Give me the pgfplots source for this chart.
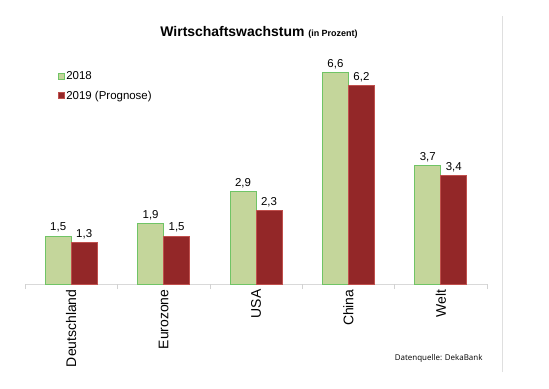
\documentclass[border=0pt]{standalone}
\usepackage{pgfplots}
\pgfplotsset{compat=1.18}
\usepackage{fontspec}
\setmainfont{Liberation Sans}
\newfontfamily\footfont{Open Sans}
\definecolor{bargreen}{RGB}{196,214,155}
\definecolor{bargreenedge}{RGB}{112,196,102}
\definecolor{barred}{RGB}{147,39,40}
\definecolor{barrededge}{RGB}{192,80,77}
\begin{document}
\begin{tikzpicture}[x=1bp,y=1bp]
\useasboundingbox (0,0) rectangle (549,388);
\fill[white] (0,0) rectangle (549,388);
\draw[gray!25, line width=0.8bp] (502,16) -- (502,372);
\node[font=\fontsize{14}{16}\selectfont\bfseries] at (259,356) {Wirtschaftswachstum \fontsize{9}{10}\selectfont(in Prozent)};
\node[font=\footfont\fontsize{8}{10}\selectfont, anchor=east] at (486,30) {Datenquelle: DekaBank};
\begin{axis}[
  at={(25bp,104bp)}, anchor=south west,
  scale only axis, width=462bp, height=240bp,
  xmin=-0.5, xmax=4.5, ymin=0, ymax=7.5,
  ybar=0pt, bar width=26bp,
  legend image code/.code={\draw[#1] (0bp,-3bp) rectangle (6bp,3bp);},
  axis x line*=bottom, axis y line=none,
  axis line style={-, draw=gray!30, line width=0.8bp},
  xtick={0,1,2,3,4},
  xticklabels={Deutschland,Eurozone,USA,China,Welt},
  major tick length=0pt, tick align=outside,
  extra x ticks={-0.5,0.5,1.5,2.5,3.5,4.5},
  extra x tick labels={},
  extra x tick style={major tick length=5bp, tick style={draw=gray!35, line width=0.6bp}},
  xticklabel style={rotate=90, anchor=east, font=\fontsize{14}{16}\selectfont, xshift=-2bp},
  nodes near coords,
  nodes near coords style={font=\fontsize{11.5}{13}\selectfont, text=black},
  /pgf/number format/assume math mode=true,
  /pgf/number format/use comma, /pgf/number format/fixed,
  /pgf/number format/fixed zerofill, /pgf/number format/precision=1,
  legend style={at={(rel axis cs:0.07,0.895)}, anchor=north west, draw=none, fill=none,
    font=\fontsize{11.5}{13}\selectfont, row sep=6bp, inner sep=0pt},
  legend cell align=left,
  clip=false,
]
\addplot[fill=bargreen, draw=bargreenedge, line width=0.8bp] coordinates {(0,1.5)(1,1.9)(2,2.9)(3,6.6)(4,3.7)};
\addplot[fill=barred, draw=barrededge, line width=0.8bp] coordinates {(0,1.3)(1,1.5)(2,2.3)(3,6.2)(4,3.4)};
\legend{2018, 2019 (Prognose)}
\end{axis}
\end{tikzpicture}
\end{document}
